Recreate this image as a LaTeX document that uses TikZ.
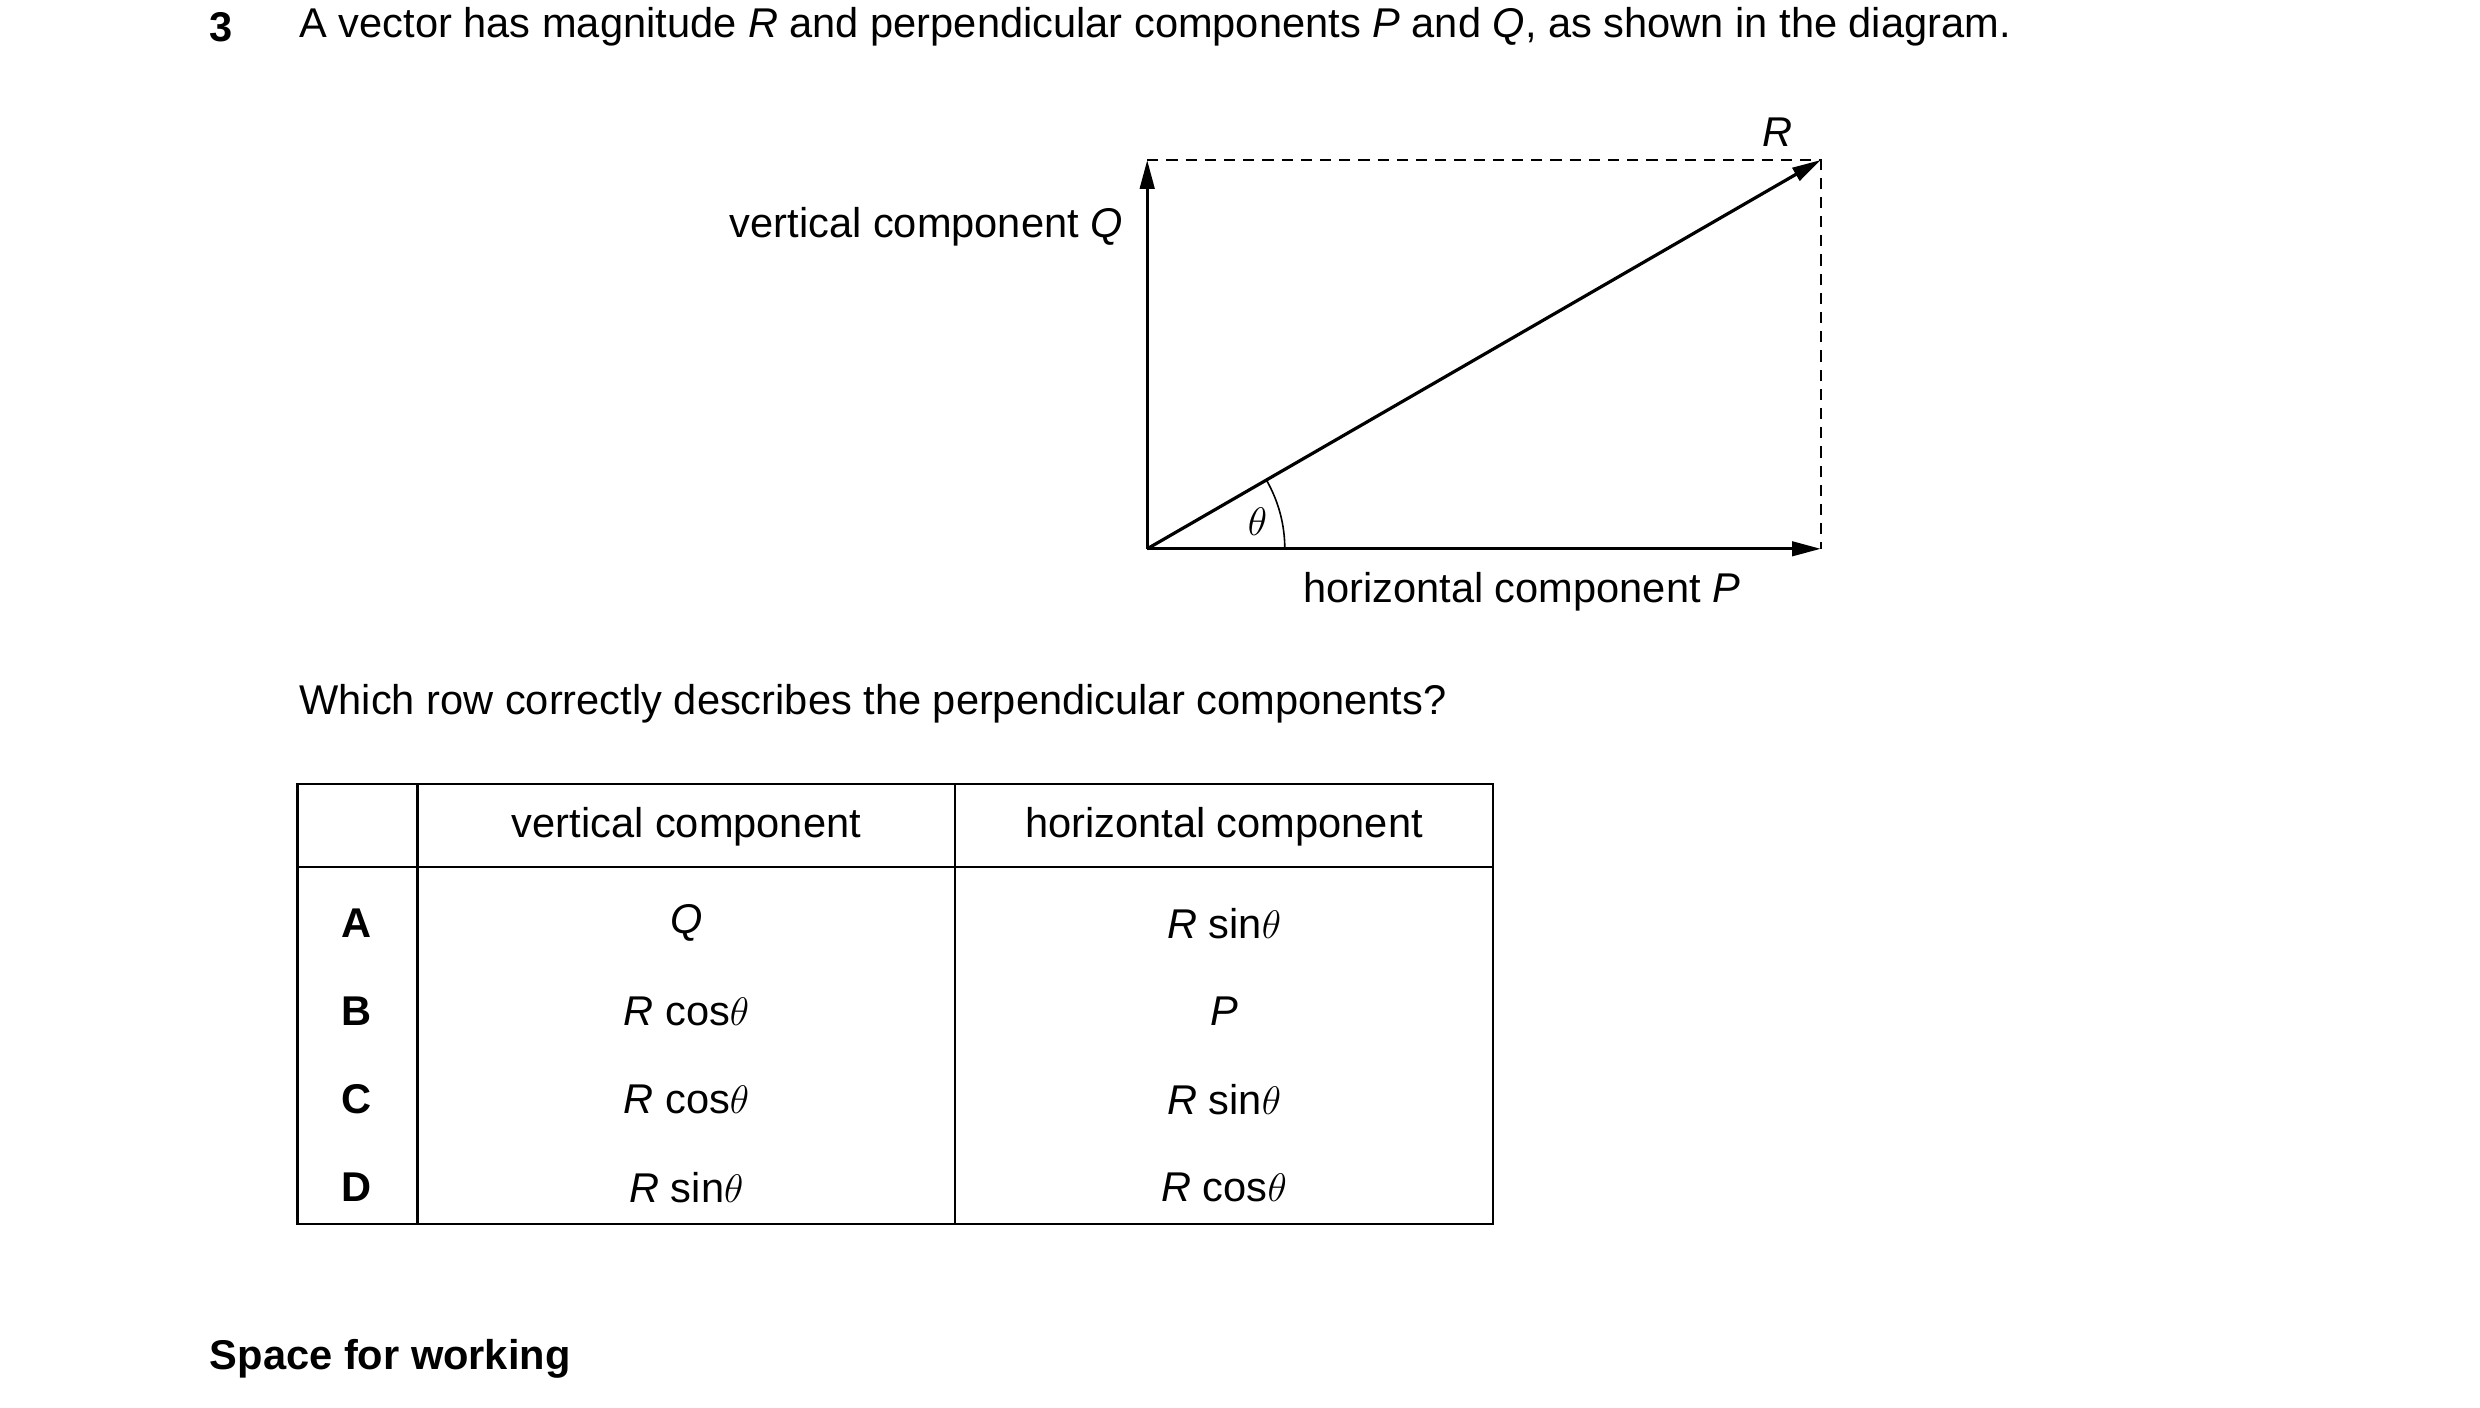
\documentclass[tikz,border=0pt]{standalone}
\usepackage{fontspec}
\setmainfont{Liberation Sans}
\usetikzlibrary{arrows.meta,calc}
\tikzset{
  txt/.style={inner sep=0pt, font=\fontsize{26}{30}\selectfont},
  vec/.style={line width=2pt, -{Triangle[length=18pt,width=9pt]}},
  guide/.style={line width=1pt, dash pattern=on 7pt off 5pt},
  grid/.style={line width=1.5pt}
}
\begin{document}
\begin{tikzpicture}[x=1pt,y=1pt,yscale=-1,xscale=1]
\useasboundingbox (0,0) rectangle (1550,880);
\node[txt, anchor=west, font=\fontsize{26}{30}\selectfont\bfseries] (num) at (131,17) {3};
\node[txt, anchor=west] (intro) at (187,17) {A vector has magnitude \textit{R} and perpendicular components \textit{P} and \textit{Q}, as shown in the diagram.};
% vector diagram
\coordinate (O) at (717,343);
\coordinate (Qtip) at (717,100);
\coordinate (Ptip) at (1138,343);
\coordinate (Rtip) at (1138,100);
\draw[guide] (Qtip) -- (Rtip) -- (Ptip);
\draw[vec] (O) -- (Qtip);
\draw[vec] (O) -- (Ptip);
\draw[vec] (O) -- (Rtip);
\draw[line width=1pt] ($(O)+(86,0)$) arc[start angle=0, end angle=-30, radius=86];
\node[txt, anchor=south] (lR) at (1111,92) {\textit{R}};
\node[txt, anchor=east] (lQ) at (702,142) {vertical component \textit{Q}};
\node[txt] (lP) at (951,370) {horizontal component \textit{P}};
\node[txt] (lth) at (786,326) {$\theta$};
\node[txt, anchor=west] (ask) at (187,440) {Which row correctly describes the perpendicular components?};
% table
\draw[grid] (186,490) rectangle (933,765);
\draw[grid] (186,542) -- (933,542);
\draw[grid] (261,490) -- (261,765);
\draw[grid] (597,490) -- (597,765);
\node[txt] (h1) at (429,517) {vertical component};
\node[txt] (h2) at (765,517) {horizontal component};
\foreach \y/\k/\v/\h in {577/A/{\textit{Q}}/{\textit{R} sin$\theta$},
                         632/B/{\textit{R} cos$\theta$}/{\textit{P}},
                         687/C/{\textit{R} cos$\theta$}/{\textit{R} sin$\theta$},
                         742/D/{\textit{R} sin$\theta$}/{\textit{R} cos$\theta$}}{
  \node[txt, font=\fontsize{26}{30}\selectfont\bfseries] (k\k) at (223,\y) {\k};
  \node[txt] (v\k) at (429,\y) {\v};
  \node[txt] (w\k) at (765,\y) {\h};
}
\node[txt, anchor=west, font=\fontsize{26}{30}\selectfont\bfseries] (work) at (131,849) {Space for working};
\end{tikzpicture}
\end{document}
